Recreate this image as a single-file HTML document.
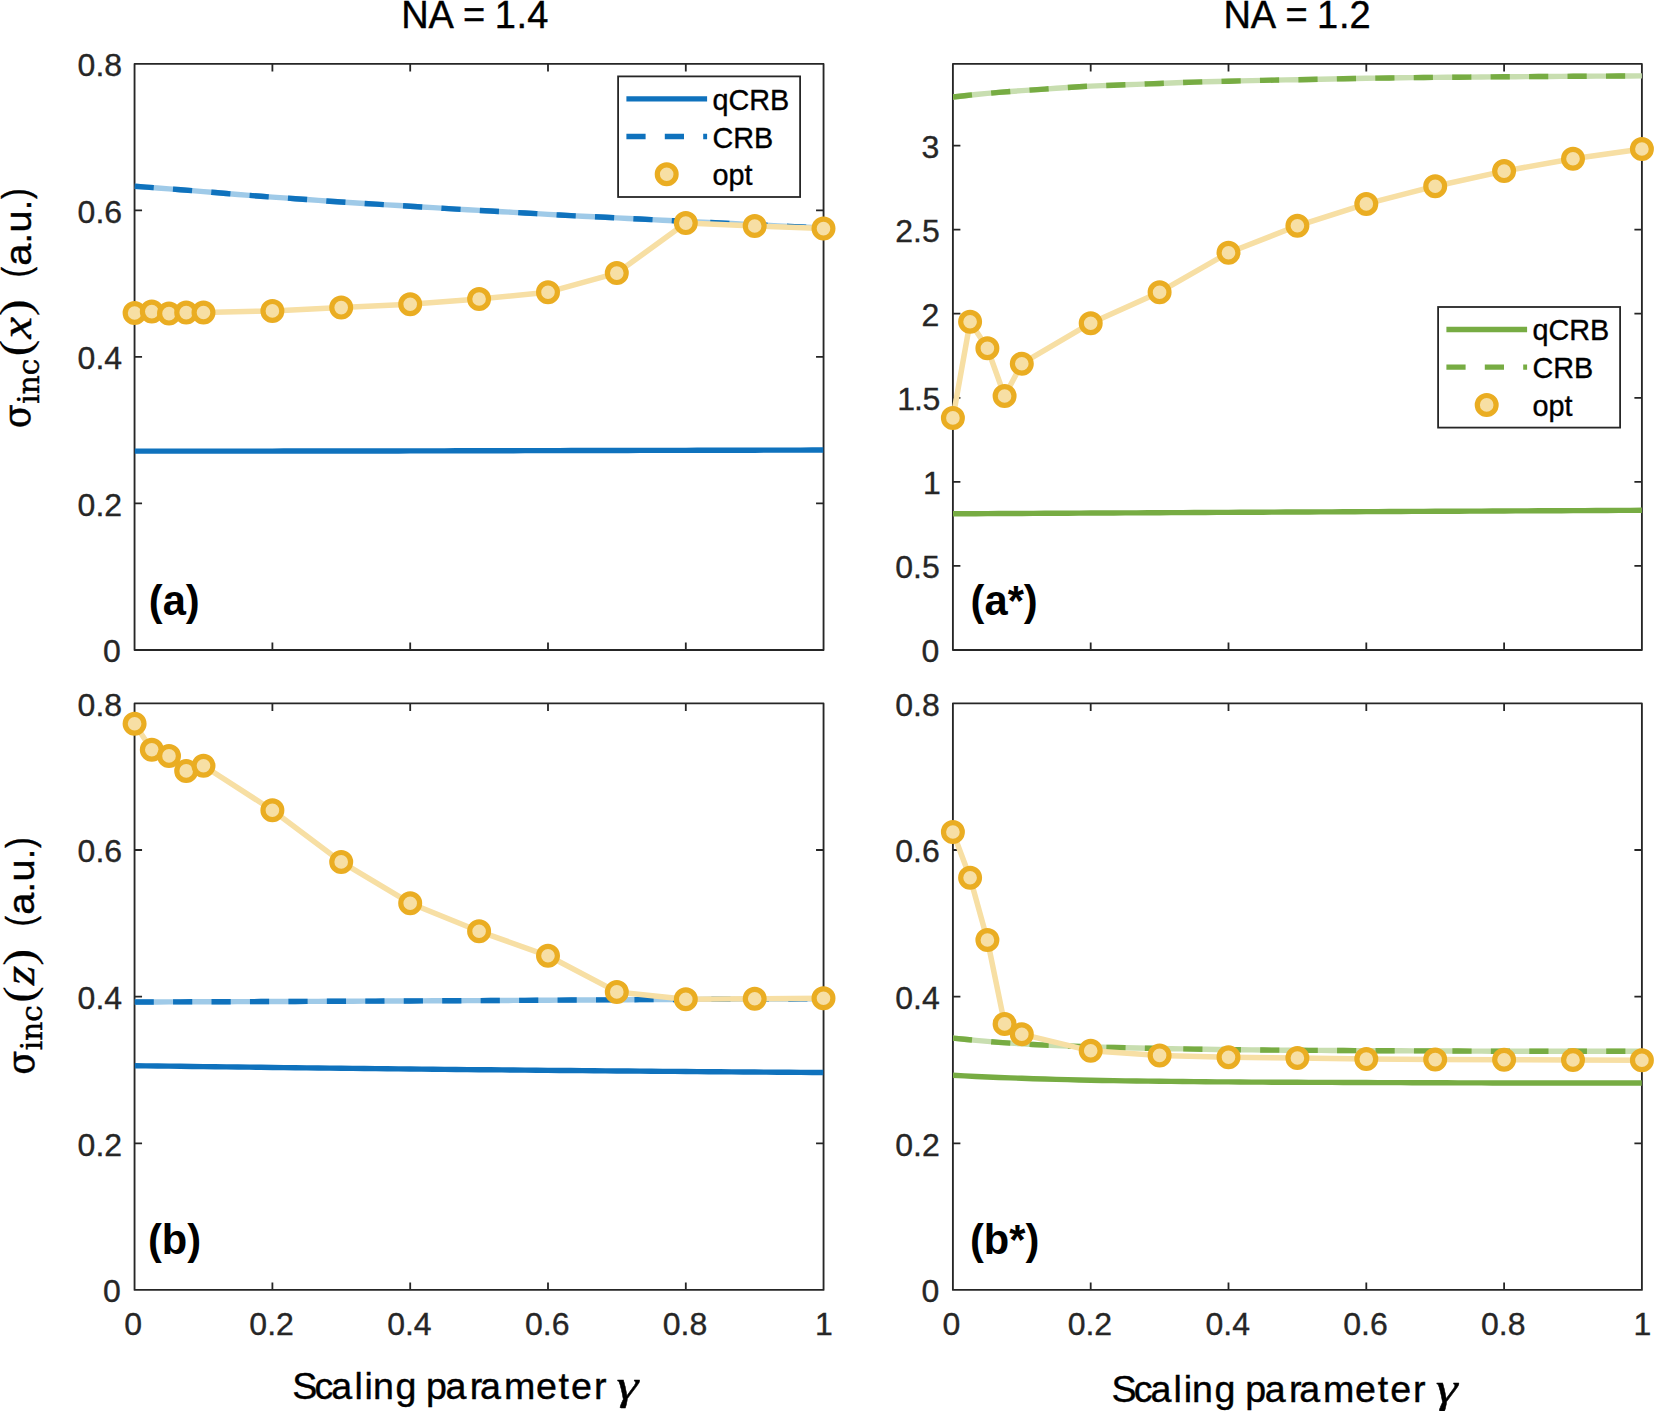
<!DOCTYPE html>
<html lang="en"><head><meta charset="utf-8"><title>Figure</title>
<style>
html,body{margin:0;padding:0;background:#fff;}
svg{display:block;}
text{font-family:"Liberation Sans",sans-serif;}
.tk{font-size:32px;fill:#262626;stroke:#262626;stroke-width:0.35px;}
.lg{font-size:28.8px;fill:#000;stroke:#000;stroke-width:0.35px;}
.lb{font-size:37.6px;fill:#000;}
.pl{font-size:41.67px;font-weight:bold;fill:#000;}
.se{font-family:"Liberation Serif","DejaVu Serif",serif;}
</style></head><body>
<svg width="1654" height="1411" viewBox="0 0 1654 1411">
<rect width="1654" height="1411" fill="#fff"/>
<defs>
<clipPath id="cp00"><rect x="134.55" y="63.9" width="689.0" height="586.05"/></clipPath>
<clipPath id="cp01"><rect x="134.55" y="703.4" width="689.0" height="586.5"/></clipPath>
<clipPath id="cp10"><rect x="952.9" y="63.9" width="689.0" height="586.05"/></clipPath>
<clipPath id="cp11"><rect x="952.9" y="703.4" width="689.0" height="586.5"/></clipPath>
</defs>
<g id="panel-00">
<rect x="134.55" y="63.9" width="689.0" height="586.05" fill="none" stroke="#262626" stroke-width="1.85" stroke-linejoin="round"/>
<path d="M272.4 649.9499999999999v-7.5M272.4 63.9v7.5M410.2 649.9499999999999v-7.5M410.2 63.9v7.5M548.0 649.9499999999999v-7.5M548.0 63.9v7.5M685.8 649.9499999999999v-7.5M685.8 63.9v7.5M134.55 503.4h7.5M823.55 503.4h-7.5M134.55 356.9h7.5M823.55 356.9h-7.5M134.55 210.4h7.5M823.55 210.4h-7.5" fill="none" stroke="#262626" stroke-width="1.8"/>
<text class="tk" x="120.9" y="662.2" text-anchor="end">0</text>
<text class="tk" x="122.1" y="515.7" text-anchor="end">0.2</text>
<text class="tk" x="122.1" y="369.2" text-anchor="end">0.4</text>
<text class="tk" x="122.1" y="222.7" text-anchor="end">0.6</text>
<text class="tk" x="122.1" y="76.2" text-anchor="end">0.8</text>
<g clip-path="url(#cp00)" fill="none">
<path d="M134.6 451.10 L146.0 451.10 L157.5 451.11 L169.0 451.11 L180.5 451.11 L192.0 451.11 L203.5 451.11 L214.9 451.10 L226.4 451.10 L237.9 451.09 L249.4 451.09 L260.9 451.08 L272.4 451.08 L283.8 451.07 L295.3 451.06 L306.8 451.06 L318.3 451.05 L329.8 451.04 L341.2 451.04 L352.7 451.02 L364.2 451.01 L375.7 450.99 L387.2 450.97 L398.7 450.95 L410.2 450.92 L421.6 450.90 L433.1 450.87 L444.6 450.84 L456.1 450.82 L467.6 450.79 L479.1 450.76 L490.5 450.73 L502.0 450.70 L513.5 450.68 L525.0 450.65 L536.5 450.62 L548.0 450.60 L559.4 450.58 L570.9 450.55 L582.4 450.53 L593.9 450.51 L605.4 450.49 L616.8 450.46 L628.3 450.44 L639.8 450.42 L651.3 450.39 L662.8 450.37 L674.3 450.35 L685.8 450.33 L697.2 450.30 L708.7 450.28 L720.2 450.26 L731.7 450.23 L743.2 450.21 L754.7 450.19 L766.1 450.16 L777.6 450.14 L789.1 450.12 L800.6 450.10 L812.1 450.07 L823.5 450.05" stroke="#0f72bd" stroke-width="5.4"/>
<path d="M134.6 186.30 L146.0 187.11 L157.5 187.95 L169.0 188.82 L180.5 189.70 L192.0 190.62 L203.5 191.59 L214.9 192.56 L226.4 193.50 L237.9 194.45 L249.4 195.39 L260.9 196.27 L272.4 197.10 L283.8 197.89 L295.3 198.69 L306.8 199.52 L318.3 200.37 L329.8 201.21 L341.2 201.99 L352.7 202.73 L364.2 203.44 L375.7 204.15 L387.2 204.84 L398.7 205.53 L410.2 206.23 L421.6 206.94 L433.1 207.67 L444.6 208.39 L456.1 209.08 L467.6 209.74 L479.1 210.39 L490.5 211.04 L502.0 211.69 L513.5 212.35 L525.0 213.01 L536.5 213.67 L548.0 214.35 L559.4 215.00 L570.9 215.62 L582.4 216.18 L593.9 216.73 L605.4 217.29 L616.8 217.86 L628.3 218.43 L639.8 219.01 L651.3 219.59 L662.8 220.19 L674.3 220.78 L685.8 221.34 L697.2 221.90 L708.7 222.45 L720.2 223.00 L731.7 223.57 L743.2 224.15 L754.7 224.74 L766.1 225.32 L777.6 225.87 L789.1 226.40 L800.6 226.89 L812.1 227.36 L823.5 227.80" stroke="#9fcae8" stroke-width="5.4"/>
<path d="M134.6 186.30 L146.0 187.11 L157.5 187.95 L169.0 188.82 L180.5 189.70 L192.0 190.62 L203.5 191.59 L214.9 192.56 L226.4 193.50 L237.9 194.45 L249.4 195.39 L260.9 196.27 L272.4 197.10 L283.8 197.89 L295.3 198.69 L306.8 199.52 L318.3 200.37 L329.8 201.21 L341.2 201.99 L352.7 202.73 L364.2 203.44 L375.7 204.15 L387.2 204.84 L398.7 205.53 L410.2 206.23 L421.6 206.94 L433.1 207.67 L444.6 208.39 L456.1 209.08 L467.6 209.74 L479.1 210.39 L490.5 211.04 L502.0 211.69 L513.5 212.35 L525.0 213.01 L536.5 213.67 L548.0 214.35 L559.4 215.00 L570.9 215.62 L582.4 216.18 L593.9 216.73 L605.4 217.29 L616.8 217.86 L628.3 218.43 L639.8 219.01 L651.3 219.59 L662.8 220.19 L674.3 220.78 L685.8 221.34 L697.2 221.90 L708.7 222.45 L720.2 223.00 L731.7 223.57 L743.2 224.15 L754.7 224.74 L766.1 225.32 L777.6 225.87 L789.1 226.40 L800.6 226.89 L812.1 227.36 L823.5 227.80" stroke="#0f72bd" stroke-width="5.4" stroke-dasharray="19.2 19.25"/>
</g>
<polyline points="134.6,313.0 151.8,311.6 169.0,313.6 186.2,312.6 203.5,312.5 272.4,310.9 341.2,307.6 410.2,304.3 479.1,299.0 548.0,292.2 616.8,273.1 685.8,223.1 754.7,226.0 823.5,228.6" fill="none" stroke="#f7dfa4" stroke-width="5.5" stroke-linejoin="round"/>
<g fill="#f7dfa4" stroke="#eaad22" stroke-width="5.2">
<circle cx="134.6" cy="313.0" r="9.4"/>
<circle cx="151.8" cy="311.6" r="9.4"/>
<circle cx="169.0" cy="313.6" r="9.4"/>
<circle cx="186.2" cy="312.6" r="9.4"/>
<circle cx="203.5" cy="312.5" r="9.4"/>
<circle cx="272.4" cy="310.9" r="9.4"/>
<circle cx="341.2" cy="307.6" r="9.4"/>
<circle cx="410.2" cy="304.3" r="9.4"/>
<circle cx="479.1" cy="299.0" r="9.4"/>
<circle cx="548.0" cy="292.2" r="9.4"/>
<circle cx="616.8" cy="273.1" r="9.4"/>
<circle cx="685.8" cy="223.1" r="9.4"/>
<circle cx="754.7" cy="226.0" r="9.4"/>
<circle cx="823.5" cy="228.6" r="9.4"/>
</g>
<text class="pl" x="148.8" y="614.6">(a)</text>
</g>
<g id="panel-01">
<rect x="134.55" y="703.4" width="689.0" height="586.5" fill="none" stroke="#262626" stroke-width="1.85" stroke-linejoin="round"/>
<path d="M272.4 1289.9v-7.5M272.4 703.4v7.5M410.2 1289.9v-7.5M410.2 703.4v7.5M548.0 1289.9v-7.5M548.0 703.4v7.5M685.8 1289.9v-7.5M685.8 703.4v7.5M134.55 1143.3h7.5M823.55 1143.3h-7.5M134.55 996.7h7.5M823.55 996.7h-7.5M134.55 850.0h7.5M823.55 850.0h-7.5" fill="none" stroke="#262626" stroke-width="1.8"/>
<text class="tk" x="133.2" y="1334.5" text-anchor="middle">0</text>
<text class="tk" x="271.6" y="1334.5" text-anchor="middle">0.2</text>
<text class="tk" x="409.4" y="1334.5" text-anchor="middle">0.4</text>
<text class="tk" x="547.2" y="1334.5" text-anchor="middle">0.6</text>
<text class="tk" x="685.0" y="1334.5" text-anchor="middle">0.8</text>
<text class="tk" x="823.9" y="1334.5" text-anchor="middle">1</text>
<text class="tk" x="120.9" y="1302.2" text-anchor="end">0</text>
<text class="tk" x="122.1" y="1155.6" text-anchor="end">0.2</text>
<text class="tk" x="122.1" y="1009.0" text-anchor="end">0.4</text>
<text class="tk" x="122.1" y="862.3" text-anchor="end">0.6</text>
<text class="tk" x="122.1" y="715.7" text-anchor="end">0.8</text>
<g clip-path="url(#cp01)" fill="none">
<path d="M134.6 1065.70 L146.0 1065.85 L157.5 1066.00 L169.0 1066.15 L180.5 1066.30 L192.0 1066.45 L203.5 1066.60 L214.9 1066.75 L226.4 1066.89 L237.9 1067.03 L249.4 1067.17 L260.9 1067.32 L272.4 1067.45 L283.8 1067.59 L295.3 1067.73 L306.8 1067.86 L318.3 1068.00 L329.8 1068.13 L341.2 1068.26 L352.7 1068.39 L364.2 1068.52 L375.7 1068.64 L387.2 1068.77 L398.7 1068.89 L410.2 1069.01 L421.6 1069.13 L433.1 1069.25 L444.6 1069.36 L456.1 1069.48 L467.6 1069.59 L479.1 1069.70 L490.5 1069.81 L502.0 1069.92 L513.5 1070.03 L525.0 1070.13 L536.5 1070.24 L548.0 1070.34 L559.4 1070.45 L570.9 1070.55 L582.4 1070.65 L593.9 1070.75 L605.4 1070.85 L616.8 1070.95 L628.3 1071.05 L639.8 1071.14 L651.3 1071.24 L662.8 1071.33 L674.3 1071.42 L685.8 1071.51 L697.2 1071.60 L708.7 1071.69 L720.2 1071.78 L731.7 1071.87 L743.2 1071.95 L754.7 1072.03 L766.1 1072.11 L777.6 1072.19 L789.1 1072.27 L800.6 1072.35 L812.1 1072.43 L823.5 1072.50" stroke="#0f72bd" stroke-width="5.4"/>
<path d="M134.6 1002.00 L146.0 1001.97 L157.5 1001.93 L169.0 1001.89 L180.5 1001.86 L192.0 1001.82 L203.5 1001.78 L214.9 1001.74 L226.4 1001.70 L237.9 1001.66 L249.4 1001.61 L260.9 1001.57 L272.4 1001.52 L283.8 1001.48 L295.3 1001.43 L306.8 1001.38 L318.3 1001.34 L329.8 1001.29 L341.2 1001.24 L352.7 1001.19 L364.2 1001.14 L375.7 1001.09 L387.2 1001.03 L398.7 1000.98 L410.2 1000.93 L421.6 1000.88 L433.1 1000.82 L444.6 1000.77 L456.1 1000.71 L467.6 1000.66 L479.1 1000.60 L490.5 1000.54 L502.0 1000.48 L513.5 1000.42 L525.0 1000.35 L536.5 1000.28 L548.0 1000.21 L559.4 1000.14 L570.9 1000.07 L582.4 1000.00 L593.9 999.93 L605.4 999.86 L616.8 999.79 L628.3 999.72 L639.8 999.66 L651.3 999.60 L662.8 999.54 L674.3 999.48 L685.8 999.43 L697.2 999.37 L708.7 999.31 L720.2 999.26 L731.7 999.20 L743.2 999.15 L754.7 999.10 L766.1 999.05 L777.6 998.99 L789.1 998.94 L800.6 998.90 L812.1 998.85 L823.5 998.80" stroke="#9fcae8" stroke-width="5.4"/>
<path d="M134.6 1002.00 L146.0 1001.97 L157.5 1001.93 L169.0 1001.89 L180.5 1001.86 L192.0 1001.82 L203.5 1001.78 L214.9 1001.74 L226.4 1001.70 L237.9 1001.66 L249.4 1001.61 L260.9 1001.57 L272.4 1001.52 L283.8 1001.48 L295.3 1001.43 L306.8 1001.38 L318.3 1001.34 L329.8 1001.29 L341.2 1001.24 L352.7 1001.19 L364.2 1001.14 L375.7 1001.09 L387.2 1001.03 L398.7 1000.98 L410.2 1000.93 L421.6 1000.88 L433.1 1000.82 L444.6 1000.77 L456.1 1000.71 L467.6 1000.66 L479.1 1000.60 L490.5 1000.54 L502.0 1000.48 L513.5 1000.42 L525.0 1000.35 L536.5 1000.28 L548.0 1000.21 L559.4 1000.14 L570.9 1000.07 L582.4 1000.00 L593.9 999.93 L605.4 999.86 L616.8 999.79 L628.3 999.72 L639.8 999.66 L651.3 999.60 L662.8 999.54 L674.3 999.48 L685.8 999.43 L697.2 999.37 L708.7 999.31 L720.2 999.26 L731.7 999.20 L743.2 999.15 L754.7 999.10 L766.1 999.05 L777.6 998.99 L789.1 998.94 L800.6 998.90 L812.1 998.85 L823.5 998.80" stroke="#0f72bd" stroke-width="5.4" stroke-dasharray="19.2 19.25"/>
</g>
<polyline points="134.6,723.8 151.8,749.7 169.0,755.9 186.2,770.9 203.5,765.8 272.4,810.2 341.2,861.9 410.2,903.2 479.1,931.3 548.0,955.8 616.8,991.9 685.8,999.2 754.7,998.8 823.5,998.3" fill="none" stroke="#f7dfa4" stroke-width="5.5" stroke-linejoin="round"/>
<g fill="#f7dfa4" stroke="#eaad22" stroke-width="5.2">
<circle cx="134.6" cy="723.8" r="9.4"/>
<circle cx="151.8" cy="749.7" r="9.4"/>
<circle cx="169.0" cy="755.9" r="9.4"/>
<circle cx="186.2" cy="770.9" r="9.4"/>
<circle cx="203.5" cy="765.8" r="9.4"/>
<circle cx="272.4" cy="810.2" r="9.4"/>
<circle cx="341.2" cy="861.9" r="9.4"/>
<circle cx="410.2" cy="903.2" r="9.4"/>
<circle cx="479.1" cy="931.3" r="9.4"/>
<circle cx="548.0" cy="955.8" r="9.4"/>
<circle cx="616.8" cy="991.9" r="9.4"/>
<circle cx="685.8" cy="999.2" r="9.4"/>
<circle cx="754.7" cy="998.8" r="9.4"/>
<circle cx="823.5" cy="998.3" r="9.4"/>
</g>
<text class="pl" x="147.9" y="1253.7">(b)</text>
</g>
<g id="panel-10">
<rect x="952.9" y="63.9" width="689.0" height="586.05" fill="none" stroke="#262626" stroke-width="1.85" stroke-linejoin="round"/>
<path d="M1090.7 649.9499999999999v-7.5M1090.7 63.9v7.5M1228.5 649.9499999999999v-7.5M1228.5 63.9v7.5M1366.3 649.9499999999999v-7.5M1366.3 63.9v7.5M1504.1 649.9499999999999v-7.5M1504.1 63.9v7.5M952.9 565.9h7.5M1641.9 565.9h-7.5M952.9 481.8h7.5M1641.9 481.8h-7.5M952.9 397.8h7.5M1641.9 397.8h-7.5M952.9 313.7h7.5M1641.9 313.7h-7.5M952.9 229.7h7.5M1641.9 229.7h-7.5M952.9 145.6h7.5M1641.9 145.6h-7.5" fill="none" stroke="#262626" stroke-width="1.8"/>
<text class="tk" x="939.2" y="662.2" text-anchor="end">0</text>
<text class="tk" x="939.8" y="578.2" text-anchor="end">0.5</text>
<text class="tk" x="940.7" y="494.1" text-anchor="end">1</text>
<text class="tk" x="897.3 914.1 922.5" y="410.1">1.5</text>
<text class="tk" x="939.2" y="326.0" text-anchor="end">2</text>
<text class="tk" x="939.8" y="242.0" text-anchor="end">2.5</text>
<text class="tk" x="939.2" y="157.9" text-anchor="end">3</text>
<g clip-path="url(#cp10)" fill="none">
<path d="M952.9 513.80 L964.4 513.74 L975.9 513.68 L987.4 513.62 L998.8 513.55 L1010.3 513.49 L1021.8 513.43 L1033.3 513.37 L1044.8 513.31 L1056.2 513.25 L1067.7 513.19 L1079.2 513.13 L1090.7 513.07 L1102.2 513.01 L1113.7 512.95 L1125.2 512.89 L1136.6 512.83 L1148.1 512.77 L1159.6 512.71 L1171.1 512.65 L1182.6 512.59 L1194.0 512.53 L1205.5 512.47 L1217.0 512.41 L1228.5 512.35 L1240.0 512.29 L1251.5 512.23 L1263.0 512.18 L1274.4 512.12 L1285.9 512.06 L1297.4 512.00 L1308.9 511.94 L1320.4 511.88 L1331.8 511.83 L1343.3 511.77 L1354.8 511.71 L1366.3 511.65 L1377.8 511.59 L1389.3 511.54 L1400.8 511.48 L1412.2 511.42 L1423.7 511.37 L1435.2 511.31 L1446.7 511.25 L1458.2 511.19 L1469.7 511.14 L1481.1 511.08 L1492.6 511.02 L1504.1 510.97 L1515.6 510.91 L1527.1 510.86 L1538.5 510.80 L1550.0 510.74 L1561.5 510.69 L1573.0 510.63 L1584.5 510.58 L1596.0 510.52 L1607.4 510.47 L1618.9 510.41 L1630.4 510.36 L1641.9 510.30" stroke="#77ac43" stroke-width="5.4"/>
<path d="M952.9 97.00 L964.4 95.72 L975.9 94.52 L987.4 93.41 L998.8 92.39 L1010.3 91.47 L1021.8 90.65 L1033.3 89.86 L1044.8 89.07 L1056.2 88.26 L1067.7 87.46 L1079.2 86.72 L1090.7 86.10 L1102.2 85.61 L1113.7 85.18 L1125.2 84.79 L1136.6 84.37 L1148.1 83.91 L1159.6 83.44 L1171.1 82.97 L1182.6 82.54 L1194.0 82.15 L1205.5 81.81 L1217.0 81.50 L1228.5 81.20 L1240.0 80.90 L1251.5 80.62 L1263.0 80.35 L1274.4 80.11 L1285.9 79.91 L1297.4 79.70 L1308.9 79.47 L1320.4 79.22 L1331.8 78.97 L1343.3 78.73 L1354.8 78.50 L1366.3 78.30 L1377.8 78.12 L1389.3 77.96 L1400.8 77.80 L1412.2 77.66 L1423.7 77.52 L1435.2 77.40 L1446.7 77.28 L1458.2 77.18 L1469.7 77.08 L1481.1 76.98 L1492.6 76.89 L1504.1 76.80 L1515.6 76.71 L1527.1 76.62 L1538.5 76.54 L1550.0 76.46 L1561.5 76.38 L1573.0 76.30 L1584.5 76.23 L1596.0 76.16 L1607.4 76.09 L1618.9 76.02 L1630.4 75.96 L1641.9 75.90" stroke="#c8deb0" stroke-width="5.4"/>
<path d="M952.9 97.00 L964.4 95.72 L975.9 94.52 L987.4 93.41 L998.8 92.39 L1010.3 91.47 L1021.8 90.65 L1033.3 89.86 L1044.8 89.07 L1056.2 88.26 L1067.7 87.46 L1079.2 86.72 L1090.7 86.10 L1102.2 85.61 L1113.7 85.18 L1125.2 84.79 L1136.6 84.37 L1148.1 83.91 L1159.6 83.44 L1171.1 82.97 L1182.6 82.54 L1194.0 82.15 L1205.5 81.81 L1217.0 81.50 L1228.5 81.20 L1240.0 80.90 L1251.5 80.62 L1263.0 80.35 L1274.4 80.11 L1285.9 79.91 L1297.4 79.70 L1308.9 79.47 L1320.4 79.22 L1331.8 78.97 L1343.3 78.73 L1354.8 78.50 L1366.3 78.30 L1377.8 78.12 L1389.3 77.96 L1400.8 77.80 L1412.2 77.66 L1423.7 77.52 L1435.2 77.40 L1446.7 77.28 L1458.2 77.18 L1469.7 77.08 L1481.1 76.98 L1492.6 76.89 L1504.1 76.80 L1515.6 76.71 L1527.1 76.62 L1538.5 76.54 L1550.0 76.46 L1561.5 76.38 L1573.0 76.30 L1584.5 76.23 L1596.0 76.16 L1607.4 76.09 L1618.9 76.02 L1630.4 75.96 L1641.9 75.90" stroke="#77ac43" stroke-width="5.4" stroke-dasharray="19.2 19.25"/>
</g>
<polyline points="952.9,417.9 970.1,321.8 987.4,348.3 1004.6,396.0 1021.8,363.7 1090.7,323.2 1159.6,292.2 1228.5,252.7 1297.4,225.8 1366.3,203.9 1435.2,186.2 1504.1,171.1 1573.0,158.7 1641.9,149.0" fill="none" stroke="#f7dfa4" stroke-width="5.5" stroke-linejoin="round"/>
<g fill="#f7dfa4" stroke="#eaad22" stroke-width="5.2">
<circle cx="952.9" cy="417.9" r="9.4"/>
<circle cx="970.1" cy="321.8" r="9.4"/>
<circle cx="987.4" cy="348.3" r="9.4"/>
<circle cx="1004.6" cy="396.0" r="9.4"/>
<circle cx="1021.8" cy="363.7" r="9.4"/>
<circle cx="1090.7" cy="323.2" r="9.4"/>
<circle cx="1159.6" cy="292.2" r="9.4"/>
<circle cx="1228.5" cy="252.7" r="9.4"/>
<circle cx="1297.4" cy="225.8" r="9.4"/>
<circle cx="1366.3" cy="203.9" r="9.4"/>
<circle cx="1435.2" cy="186.2" r="9.4"/>
<circle cx="1504.1" cy="171.1" r="9.4"/>
<circle cx="1573.0" cy="158.7" r="9.4"/>
<circle cx="1641.9" cy="149.0" r="9.4"/>
</g>
<text class="pl" x="970.6" y="614.6">(a*)</text>
</g>
<g id="panel-11">
<rect x="952.9" y="703.4" width="689.0" height="586.5" fill="none" stroke="#262626" stroke-width="1.85" stroke-linejoin="round"/>
<path d="M1090.7 1289.9v-7.5M1090.7 703.4v7.5M1228.5 1289.9v-7.5M1228.5 703.4v7.5M1366.3 1289.9v-7.5M1366.3 703.4v7.5M1504.1 1289.9v-7.5M1504.1 703.4v7.5M952.9 1143.3h7.5M1641.9 1143.3h-7.5M952.9 996.7h7.5M1641.9 996.7h-7.5M952.9 850.0h7.5M1641.9 850.0h-7.5" fill="none" stroke="#262626" stroke-width="1.8"/>
<text class="tk" x="951.5" y="1334.5" text-anchor="middle">0</text>
<text class="tk" x="1089.9" y="1334.5" text-anchor="middle">0.2</text>
<text class="tk" x="1227.7" y="1334.5" text-anchor="middle">0.4</text>
<text class="tk" x="1365.5" y="1334.5" text-anchor="middle">0.6</text>
<text class="tk" x="1503.3" y="1334.5" text-anchor="middle">0.8</text>
<text class="tk" x="1642.3" y="1334.5" text-anchor="middle">1</text>
<text class="tk" x="939.2" y="1302.2" text-anchor="end">0</text>
<text class="tk" x="939.8" y="1155.6" text-anchor="end">0.2</text>
<text class="tk" x="939.8" y="1009.0" text-anchor="end">0.4</text>
<text class="tk" x="939.8" y="862.3" text-anchor="end">0.6</text>
<text class="tk" x="939.8" y="715.7" text-anchor="end">0.8</text>
<g clip-path="url(#cp11)" fill="none">
<path d="M952.9 1075.30 L964.4 1075.88 L975.9 1076.43 L987.4 1076.95 L998.8 1077.44 L1010.3 1077.89 L1021.8 1078.30 L1033.3 1078.68 L1044.8 1079.03 L1056.2 1079.37 L1067.7 1079.67 L1079.2 1079.95 L1090.7 1080.20 L1102.2 1080.43 L1113.7 1080.64 L1125.2 1080.83 L1136.6 1081.01 L1148.1 1081.17 L1159.6 1081.30 L1171.1 1081.42 L1182.6 1081.53 L1194.0 1081.64 L1205.5 1081.74 L1217.0 1081.83 L1228.5 1081.92 L1240.0 1082.00 L1251.5 1082.08 L1263.0 1082.14 L1274.4 1082.20 L1285.9 1082.26 L1297.4 1082.30 L1308.9 1082.34 L1320.4 1082.38 L1331.8 1082.42 L1343.3 1082.46 L1354.8 1082.50 L1366.3 1082.54 L1377.8 1082.58 L1389.3 1082.62 L1400.8 1082.66 L1412.2 1082.70 L1423.7 1082.74 L1435.2 1082.77 L1446.7 1082.81 L1458.2 1082.84 L1469.7 1082.87 L1481.1 1082.90 L1492.6 1082.93 L1504.1 1082.95 L1515.6 1082.97 L1527.1 1082.99 L1538.5 1083.01 L1550.0 1083.02 L1561.5 1083.03 L1573.0 1083.04 L1584.5 1083.04 L1596.0 1083.04 L1607.4 1083.04 L1618.9 1083.03 L1630.4 1083.02 L1641.9 1083.00" stroke="#77ac43" stroke-width="5.4"/>
<path d="M952.9 1038.10 L964.4 1039.27 L975.9 1040.38 L987.4 1041.41 L998.8 1042.34 L1010.3 1043.18 L1021.8 1043.90 L1033.3 1044.53 L1044.8 1045.11 L1056.2 1045.63 L1067.7 1046.11 L1079.2 1046.53 L1090.7 1046.90 L1102.2 1047.23 L1113.7 1047.53 L1125.2 1047.80 L1136.6 1048.05 L1148.1 1048.28 L1159.6 1048.50 L1171.1 1048.71 L1182.6 1048.91 L1194.0 1049.11 L1205.5 1049.28 L1217.0 1049.45 L1228.5 1049.60 L1240.0 1049.74 L1251.5 1049.88 L1263.0 1050.02 L1274.4 1050.13 L1285.9 1050.23 L1297.4 1050.30 L1308.9 1050.36 L1320.4 1050.41 L1331.8 1050.47 L1343.3 1050.53 L1354.8 1050.59 L1366.3 1050.65 L1377.8 1050.70 L1389.3 1050.76 L1400.8 1050.82 L1412.2 1050.87 L1423.7 1050.92 L1435.2 1050.98 L1446.7 1051.02 L1458.2 1051.07 L1469.7 1051.11 L1481.1 1051.15 L1492.6 1051.19 L1504.1 1051.22 L1515.6 1051.25 L1527.1 1051.28 L1538.5 1051.30 L1550.0 1051.31 L1561.5 1051.32 L1573.0 1051.32 L1584.5 1051.32 L1596.0 1051.31 L1607.4 1051.29 L1618.9 1051.27 L1630.4 1051.24 L1641.9 1051.20" stroke="#c8deb0" stroke-width="5.4"/>
<path d="M952.9 1038.10 L964.4 1039.27 L975.9 1040.38 L987.4 1041.41 L998.8 1042.34 L1010.3 1043.18 L1021.8 1043.90 L1033.3 1044.53 L1044.8 1045.11 L1056.2 1045.63 L1067.7 1046.11 L1079.2 1046.53 L1090.7 1046.90 L1102.2 1047.23 L1113.7 1047.53 L1125.2 1047.80 L1136.6 1048.05 L1148.1 1048.28 L1159.6 1048.50 L1171.1 1048.71 L1182.6 1048.91 L1194.0 1049.11 L1205.5 1049.28 L1217.0 1049.45 L1228.5 1049.60 L1240.0 1049.74 L1251.5 1049.88 L1263.0 1050.02 L1274.4 1050.13 L1285.9 1050.23 L1297.4 1050.30 L1308.9 1050.36 L1320.4 1050.41 L1331.8 1050.47 L1343.3 1050.53 L1354.8 1050.59 L1366.3 1050.65 L1377.8 1050.70 L1389.3 1050.76 L1400.8 1050.82 L1412.2 1050.87 L1423.7 1050.92 L1435.2 1050.98 L1446.7 1051.02 L1458.2 1051.07 L1469.7 1051.11 L1481.1 1051.15 L1492.6 1051.19 L1504.1 1051.22 L1515.6 1051.25 L1527.1 1051.28 L1538.5 1051.30 L1550.0 1051.31 L1561.5 1051.32 L1573.0 1051.32 L1584.5 1051.32 L1596.0 1051.31 L1607.4 1051.29 L1618.9 1051.27 L1630.4 1051.24 L1641.9 1051.20" stroke="#77ac43" stroke-width="5.4" stroke-dasharray="19.2 19.25"/>
</g>
<polyline points="952.9,832.0 970.1,877.8 987.4,940.0 1004.6,1023.9 1021.8,1034.2 1090.7,1050.8 1159.6,1055.4 1228.5,1057.2 1297.4,1058.0 1366.3,1059.1 1435.2,1059.6 1504.1,1059.8 1573.0,1060.0 1641.9,1060.3" fill="none" stroke="#f7dfa4" stroke-width="5.5" stroke-linejoin="round"/>
<g fill="#f7dfa4" stroke="#eaad22" stroke-width="5.2">
<circle cx="952.9" cy="832.0" r="9.4"/>
<circle cx="970.1" cy="877.8" r="9.4"/>
<circle cx="987.4" cy="940.0" r="9.4"/>
<circle cx="1004.6" cy="1023.9" r="9.4"/>
<circle cx="1021.8" cy="1034.2" r="9.4"/>
<circle cx="1090.7" cy="1050.8" r="9.4"/>
<circle cx="1159.6" cy="1055.4" r="9.4"/>
<circle cx="1228.5" cy="1057.2" r="9.4"/>
<circle cx="1297.4" cy="1058.0" r="9.4"/>
<circle cx="1366.3" cy="1059.1" r="9.4"/>
<circle cx="1435.2" cy="1059.6" r="9.4"/>
<circle cx="1504.1" cy="1059.8" r="9.4"/>
<circle cx="1573.0" cy="1060.0" r="9.4"/>
<circle cx="1641.9" cy="1060.3" r="9.4"/>
</g>
<text class="pl" x="970.0" y="1253.7">(b*)</text>
</g>
<g>
<rect x="618.1" y="76.4" width="182" height="120.6" fill="#fff" stroke="#262626" stroke-width="1.8"/>
<path d="M626.4 98.9h80.7" stroke="#0f72bd" stroke-width="5.4" fill="none"/>
<path d="M626.4 136.5h80.7" stroke="#0f72bd" stroke-width="5.4" fill="none" stroke-dasharray="19.2 19.2"/>
<circle cx="666.7" cy="174.3" r="9.4" fill="#f7dfa4" stroke="#eaad22" stroke-width="5.2"/>
<text class="lg" x="712.4" y="109.6">qCRB</text>
<text class="lg" x="712.4" y="147.7">CRB</text>
<text class="lg" x="712.4" y="185.2">opt</text>
</g>
<g>
<rect x="1438.1" y="307.0" width="182" height="120.6" fill="#fff" stroke="#262626" stroke-width="1.8"/>
<path d="M1446.4 329.5h80.7" stroke="#77ac43" stroke-width="5.4" fill="none"/>
<path d="M1446.4 367.1h80.7" stroke="#77ac43" stroke-width="5.4" fill="none" stroke-dasharray="19.2 19.2"/>
<circle cx="1486.7" cy="404.9" r="9.4" fill="#f7dfa4" stroke="#eaad22" stroke-width="5.2"/>
<text class="lg" x="1532.4" y="340.2">qCRB</text>
<text class="lg" x="1532.4" y="378.3">CRB</text>
<text class="lg" x="1532.4" y="415.8">opt</text>
</g>
<text x="401.2 428.4 453.8 462.9 485.1 494.7 516.5 527.2" y="27.6" font-size="38.0" stroke="#000" stroke-width="0.4" style='font-family:"Liberation Sans",sans-serif;font-style:normal;font-weight:normal' fill="#000">NA = 1.4</text>
<text x="1223.6 1250.7 1276.0 1285.4 1307.6 1317.1 1338.9 1349.6" y="27.6" font-size="38.0" stroke="#000" stroke-width="0.4" style='font-family:"Liberation Sans",sans-serif;font-style:normal;font-weight:normal' fill="#000">NA = 1.2</text>
<text x="292.2 314.5 331.2 354.4 364.5 372.9 395.4 416.3 426.0 445.6 469.7 480.1 503.9 535.9 558.5 571.0 593.9 606.4" y="1399.0" font-size="37.6" stroke="#000" stroke-width="0.4" style='font-family:"Liberation Sans",sans-serif;font-style:normal;font-weight:normal' fill="#000">Scaling parameter <tspan x="616.49" y="1398.84" font-size="43.16" textLength="21.95" lengthAdjust="spacingAndGlyphs" style='font-family:"Liberation Serif","DejaVu Serif",serif;font-style:italic;font-weight:normal'>γ</tspan></text>
<text x="1111.4 1133.7 1150.4 1173.6 1183.7 1192.1 1214.6 1235.5 1245.2 1264.8 1288.9 1299.3 1323.1 1355.1 1377.7 1390.2 1413.1 1425.6" y="1401.8" font-size="37.6" stroke="#000" stroke-width="0.4" style='font-family:"Liberation Sans",sans-serif;font-style:normal;font-weight:normal' fill="#000">Scaling parameter <tspan x="1435.69" y="1401.64" font-size="43.16" textLength="21.95" lengthAdjust="spacingAndGlyphs" style='font-family:"Liberation Serif","DejaVu Serif",serif;font-style:italic;font-weight:normal'>γ</tspan></text>
<g transform="translate(30.6 427.0) rotate(-90)" fill="#000">
<text><tspan x="-1.36" y="-0.18" font-size="38.50" textLength="24.03" lengthAdjust="spacingAndGlyphs" stroke="#000" stroke-width="0.55" style='font-family:"DejaVu Serif","Liberation Serif",serif;font-style:normal;font-weight:normal'>σ</tspan><tspan x="23.27" y="8.46" font-size="29.14" textLength="44.98" lengthAdjust="spacingAndGlyphs" stroke="#000" stroke-width="0.4" style='font-family:"DejaVu Serif","Liberation Serif",serif;font-style:normal;font-weight:normal'>inc</tspan><tspan x="70.76" y="-0.26" font-size="44.56" textLength="16.59" lengthAdjust="spacingAndGlyphs" stroke="#000" stroke-width="0.15" style='font-family:"Liberation Serif","DejaVu Serif",serif;font-style:normal;font-weight:normal'>(</tspan><tspan x="88.19" y="0.10" font-size="45.27" textLength="21.75" lengthAdjust="spacingAndGlyphs" stroke="#000" stroke-width="0.45" style='font-family:"Liberation Serif","DejaVu Serif",serif;font-style:italic;font-weight:normal'>x</tspan><tspan x="110.68" y="-0.26" font-size="44.56" textLength="16.91" lengthAdjust="spacingAndGlyphs" stroke="#000" stroke-width="0.15" style='font-family:"Liberation Serif","DejaVu Serif",serif;font-style:normal;font-weight:normal'>)</tspan></text>
<text><tspan x="149.48" y="-1.51" font-size="39.57" textLength="10.68" lengthAdjust="spacingAndGlyphs" stroke="#000" stroke-width="0.4" style='font-family:"Liberation Sans",sans-serif;font-style:normal;font-weight:normal'>(</tspan><tspan x="161.31" y="0.02" font-size="37.64" textLength="66.17" lengthAdjust="spacingAndGlyphs" stroke="#000" stroke-width="0.4" style='font-family:"Liberation Sans",sans-serif;font-style:normal;font-weight:normal'>a.u.</tspan><tspan x="228.08" y="-1.51" font-size="39.57" textLength="10.63" lengthAdjust="spacingAndGlyphs" stroke="#000" stroke-width="0.4" style='font-family:"Liberation Sans",sans-serif;font-style:normal;font-weight:normal'>)</tspan></text>
</g>
<g transform="translate(34.0 1073.4) rotate(-90)" fill="#000">
<text><tspan x="-1.36" y="-0.18" font-size="38.50" textLength="24.03" lengthAdjust="spacingAndGlyphs" stroke="#000" stroke-width="0.55" style='font-family:"DejaVu Serif","Liberation Serif",serif;font-style:normal;font-weight:normal'>σ</tspan><tspan x="23.27" y="8.46" font-size="29.14" textLength="44.98" lengthAdjust="spacingAndGlyphs" stroke="#000" stroke-width="0.4" style='font-family:"DejaVu Serif","Liberation Serif",serif;font-style:normal;font-weight:normal'>inc</tspan><tspan x="70.76" y="-0.26" font-size="44.56" textLength="16.59" lengthAdjust="spacingAndGlyphs" stroke="#000" stroke-width="0.15" style='font-family:"Liberation Serif","DejaVu Serif",serif;font-style:normal;font-weight:normal'>(</tspan><tspan x="88.20" y="0.10" font-size="44.78" textLength="19.41" lengthAdjust="spacingAndGlyphs" stroke="#000" stroke-width="0.45" style='font-family:"Liberation Serif","DejaVu Serif",serif;font-style:italic;font-weight:normal'>z</tspan><tspan x="107.68" y="-0.26" font-size="44.56" textLength="16.91" lengthAdjust="spacingAndGlyphs" stroke="#000" stroke-width="0.15" style='font-family:"Liberation Serif","DejaVu Serif",serif;font-style:normal;font-weight:normal'>)</tspan></text>
<text><tspan x="146.88" y="-1.51" font-size="39.57" textLength="10.68" lengthAdjust="spacingAndGlyphs" stroke="#000" stroke-width="0.4" style='font-family:"Liberation Sans",sans-serif;font-style:normal;font-weight:normal'>(</tspan><tspan x="158.71" y="0.02" font-size="37.64" textLength="66.17" lengthAdjust="spacingAndGlyphs" stroke="#000" stroke-width="0.4" style='font-family:"Liberation Sans",sans-serif;font-style:normal;font-weight:normal'>a.u.</tspan><tspan x="225.48" y="-1.51" font-size="39.57" textLength="10.63" lengthAdjust="spacingAndGlyphs" stroke="#000" stroke-width="0.4" style='font-family:"Liberation Sans",sans-serif;font-style:normal;font-weight:normal'>)</tspan></text>
</g>
</svg></body></html>
